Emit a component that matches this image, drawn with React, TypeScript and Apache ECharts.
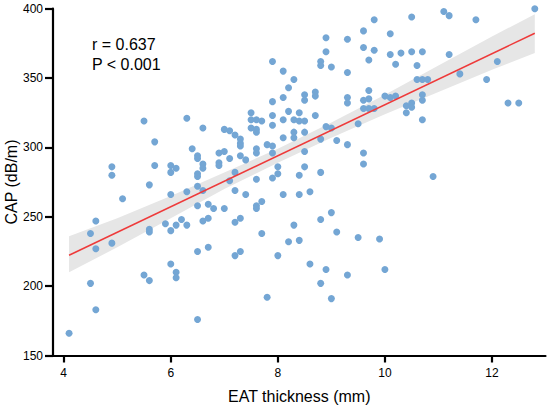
import React, { useEffect, useRef } from "react";
import * as echarts from "echarts";

const FONT = '"Liberation Sans", Arial, Helvetica, sans-serif';

const xTicks = [4, 6, 8, 10, 12];

// EAT thickness (mm)
const eatThickness = [
  4.1, 4.5, 4.6, 4.5, 4.6, 4.6, 4.9, 4.9, 4.9, 5.1, 5.5, 5.6, 5.6, 5.6, 5.5, 5.7, 5.7, 5.6, 5.9,
  6.0, 6.1, 6.2, 6.3, 6.0, 6.1, 6.1, 6.0, 6.0, 6.1, 6.0, 6.3, 6.3, 6.4,
  6.5, 6.5, 6.6, 6.7, 6.7, 6.5, 6.7, 6.8, 6.6, 6.5, 6.5, 6.6, 6.6, 6.5, 6.5, 6.5, 6.6, 6.9, 6.9, 6.9,
  7.0, 7.2, 7.3, 7.2, 7.3, 7.0, 7.1, 7.3, 7.4, 7.0, 7.1, 7.2, 7.3, 7.3, 7.3, 7.2, 7.1, 7.2, 7.4, 7.5, 7.5, 7.5,
  7.6, 7.7, 7.6, 7.6, 7.6, 7.6, 7.6, 7.6, 7.6, 7.7, 7.7, 7.8, 7.8, 7.9, 7.9, 7.9, 7.9, 7.9, 7.9, 7.9,
  8.0, 8.0, 8.0, 8.1, 8.1, 8.1, 8.1, 8.1, 8.2, 8.2, 8.2, 8.3, 8.3, 8.3, 8.3, 8.3, 8.4, 8.4, 8.4, 8.4, 8.4,
  8.5, 8.5, 8.5, 8.5, 8.5, 8.5,
  8.6, 8.6, 8.7, 8.7, 8.7, 8.8, 8.8, 8.8, 8.8, 8.8, 8.8, 8.9, 8.9, 8.9, 8.9, 9.0, 9.0, 9.0, 9.0,
  9.1, 9.1, 9.3, 9.3, 9.3, 9.3, 9.3, 9.3, 9.5, 9.5, 9.6, 9.6, 9.6, 9.6, 9.6, 9.6, 9.7, 9.7, 9.7, 9.7,
  9.8, 9.8, 9.8, 9.9,
  10.0, 10.0, 10.1, 10.1, 10.1, 10.2, 10.2, 10.3, 10.4, 10.4, 10.5, 10.5, 10.5, 10.5, 10.6, 10.6,
  10.7, 10.7, 10.7, 10.7, 10.7, 10.8, 10.9, 11.1, 11.2, 11.2, 11.4, 11.7, 11.9, 12.1, 12.3, 12.5, 12.8,
];

// CAP (dB/m)
const capValues = [
  166, 202, 183, 238, 247, 227, 231, 286, 280, 263, 208, 204, 241, 239, 319, 304, 287, 273, 245,
  240, 244, 248, 244, 216, 210, 206, 287, 282, 285, 266, 321, 268, 299,
  225, 176, 247, 249, 228, 258, 259, 256, 314, 294, 292, 288, 285, 281, 279, 272, 269, 296, 289, 287,
  256, 246, 249, 222, 225, 297, 292, 294, 291, 313, 312, 309, 306, 303, 301, 282, 276, 269, 266, 325, 320, 314,
  320, 319, 313, 311, 299, 296, 277, 258, 256, 261, 238, 192, 302, 301, 296, 278, 362, 333, 323, 316,
  222, 286, 281, 355, 336, 320, 307, 266, 343, 326, 232, 349, 320, 311, 307, 244, 325, 319, 280, 266, 233,
  338, 334, 319, 311, 297, 286,
  268, 216, 340, 337, 323, 362, 359, 306, 282, 248, 202, 379, 369, 315, 212, 358, 314, 253, 191,
  305, 239, 378, 354, 336, 332, 302, 208, 317, 235, 384, 372, 334, 328, 296, 288, 363, 341, 335, 328,
  392, 370, 328, 234,
  337, 212, 382, 367, 336, 360, 337, 368, 330, 325, 394, 369, 332, 329, 359, 349,
  369, 349, 338, 334, 320, 349, 279, 398, 395, 367, 353, 392, 349, 362, 332, 332, 400,
];

// Regression line
const fitX = [4.1, 12.8];
const fitY = [222.3, 382.3];

// 95% confidence band
const bandX = [4.1, 5, 6, 7, 8, 9, 10, 11, 12, 12.8];
const bandUpper = [236, 249, 265, 282, 299, 318, 338, 359, 380, 396];
const bandLower = [210, 228, 249, 270, 289, 307, 324, 340, 356, 368];

const statLines = ["r = 0.637", "P < 0.001"];
const yTitle = "CAP (dB/m)";

export default function App() {
  const ref = useRef<HTMLDivElement>(null);

  useEffect(() => {
    document.body.style.margin = "0";
    if (!ref.current) return;
    const chart = echarts.init(ref.current, undefined, { renderer: "svg" });

    const points = eatThickness.map((x, i) => [x, capValues[i]]);
    const bandData = bandX.map((x, i) => [x, bandUpper[i], bandLower[i]]);

    chart.setOption({
      animation: false,
      textStyle: { fontFamily: FONT },
      grid: {
        left: 53,
        right: 4.5,
        top: 8.7,
        bottom: 53.5,
        containLabel: false,
        outerBoundsMode: "none",
      },
      xAxis: {
        type: "value",
        min: 3.8,
        max: 13,
        name: "EAT thickness (mm)",
        nameLocation: "middle",
        nameGap: 33,
        nameTextStyle: { fontSize: 16, color: "#000", fontFamily: FONT },
        axisLine: { show: true, onZero: false, lineStyle: { color: "#000", width: 2.2 } },
        axisTick: { show: true, length: 7, customValues: xTicks, lineStyle: { color: "#000", width: 2.2 } },
        axisLabel: { customValues: xTicks, fontSize: 12, color: "#000", margin: 11, fontFamily: FONT },
        splitLine: { show: false },
      },
      yAxis: {
        type: "value",
        min: 150,
        max: 400,
        interval: 50,
        axisLine: { show: true, onZero: false, lineStyle: { color: "#000", width: 2.2 } },
        axisTick: { show: true, length: 8, lineStyle: { color: "#000", width: 2.2 } },
        axisLabel: { fontSize: 12, color: "#000", margin: 10, fontFamily: FONT },
        splitLine: { show: false },
      },
      series: [
        {
          type: "custom",
          coordinateSystem: "cartesian2d",
          silent: true,
          z: 1,
          data: bandData,
          encode: { x: 0, y: [1, 2] },
          renderItem: (params: any, api: any) => {
            if (params.dataIndex !== 0) return { type: "group", children: [] };
            const pts: number[][] = [];
            for (let i = 0; i < bandX.length; i++) pts.push(api.coord([bandX[i], bandUpper[i]]));
            for (let i = bandX.length - 1; i >= 0; i--) pts.push(api.coord([bandX[i], bandLower[i]]));
            return {
              type: "polygon",
              shape: { points: pts },
              style: { fill: "#e6e6e6", stroke: "none" },
            };
          },
        },
        {
          type: "scatter",
          z: 2,
          symbolSize: 7,
          itemStyle: { color: "#74a6d4", opacity: 1 },
          data: points,
        },
        {
          type: "line",
          z: 3,
          symbol: "none",
          silent: true,
          lineStyle: { color: "#ee3a3a", width: 1.5 },
          data: fitX.map((x, i) => [x, fitY[i]]),
        },
      ],
      graphic: [
        {
          type: "text",
          left: 92,
          top: 36,
          style: { text: statLines[0], font: `16px ${FONT}`, fill: "#000" },
        },
        {
          type: "text",
          left: 92,
          top: 56.5,
          style: { text: statLines[1], font: `16px ${FONT}`, fill: "#000" },
        },
        {
          type: "text",
          x: 11,
          y: 182,
          rotation: Math.PI / 2,
          style: {
            text: yTitle,
            font: `16px ${FONT}`,
            fill: "#000",
            align: "center",
            verticalAlign: "middle",
          },
        },
      ],
    });

    return () => chart.dispose();
  }, []);

  return <div ref={ref} style={{ width: 550, height: 409 }} />;
}
